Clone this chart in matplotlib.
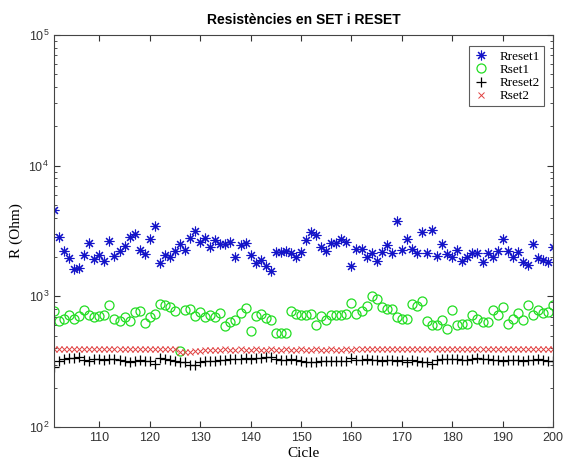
import numpy as np
import matplotlib
matplotlib.use("Agg")
import matplotlib.pyplot as plt

cycles = np.arange(101, 201)

rreset1 = [4600, 2850, 2230, 1975, 1630, 1660, 2080, 2565, 1940, 2080,
           1875, 2655, 2045, 2230, 2435, 2850, 3000, 2270, 2120, 2750,
           3450, 1810, 2080, 2010, 2230, 2520, 2270, 2800, 3160, 2610,
           2800, 2390, 2700, 2520, 2520, 2610, 2010, 2480, 2565, 2080,
           1810, 1905, 1720, 1575, 2190, 2190, 2230, 2155, 2010, 2190,
           2700, 3110, 2950, 2390, 2230, 2565, 2565, 2750, 2610, 1720,
           2310, 2310, 2010, 2155, 1875, 2190, 2480, 2155, 3765, 2270,
           2750, 2310, 2155, 3110, 2155, 3220, 2045, 2520, 2120, 2010,
           2270, 1875, 2010, 2155, 2155, 1840, 2155, 2010, 2230, 2750,
           2230, 2010, 2190, 1840, 1750, 2520, 1975, 1905, 1840, 2390]

rset1 = [770, 647, 670, 718, 670, 705, 783, 718, 693, 705,
         718, 855, 670, 647, 693, 647, 756, 770, 624, 693,
         730, 870, 855, 825, 770, 383, 783, 797, 705, 756,
         693, 718, 693, 743, 593, 635, 658, 743, 811, 543,
         705, 730, 681, 658, 524, 524, 524, 770, 730, 718,
         718, 730, 603, 705, 658, 718, 718, 718, 730, 885,
         730, 770, 840, 1000, 949, 825, 797, 797, 693, 670,
         670, 870, 840, 917, 647, 603, 603, 658, 562, 783,
         603, 614, 614, 718, 670, 635, 635, 783, 718, 825,
         614, 670, 743, 658, 855, 718, 783, 743, 756, 855]

rreset2 = [290, 322, 333, 339, 339, 345, 328, 322, 333, 333,
           328, 333, 333, 328, 322, 316, 322, 328, 322, 322,
           305, 339, 333, 328, 322, 316, 312, 300, 300, 316,
           322, 322, 322, 328, 328, 333, 333, 333, 339, 333,
           339, 339, 345, 345, 333, 328, 328, 333, 328, 322,
           316, 316, 316, 322, 322, 322, 322, 322, 322, 339,
           328, 328, 333, 328, 328, 322, 328, 328, 322, 328,
           316, 328, 322, 312, 316, 305, 328, 333, 333, 333,
           333, 328, 328, 333, 339, 333, 333, 328, 328, 322,
           328, 328, 328, 322, 328, 328, 333, 328, 322, 322]

rset2 = [397, 395, 397, 396, 397, 395, 397, 396, 397, 395,
         397, 396, 397, 395, 397, 396, 397, 395, 397, 396,
         397, 395, 397, 396, 395, 378, 376, 378, 380, 384,
         388, 390, 391, 390, 392, 391, 390, 392, 391, 390,
         392, 391, 390, 392, 391, 390, 392, 391, 390, 392,
         391, 390, 392, 391, 390, 392, 391, 390, 392, 391,
         393, 392, 393, 394, 393, 392, 393, 394, 393, 392,
         393, 394, 393, 392, 393, 394, 393, 392, 393, 394,
         393, 392, 393, 394, 393, 392, 393, 394, 393, 392,
         393, 394, 393, 392, 393, 394, 393, 392, 393, 394]

xticks = [110, 120, 130, 140, 150, 160, 170, 180, 190, 200]

plt.rcParams['font.family'] = ['Liberation Sans', 'DejaVu Sans']
fig = plt.figure(figsize=(5.64, 4.67), dpi=100)
ax = fig.add_axes([0.0957, 0.0857, 0.885, 0.8393])

# MATLAB-style asterisk: 8 spokes (+ and x together)
ast = (8, 2, 0)
ax.plot(cycles, rreset1, linestyle='none', marker=ast, color='#1414c8', ms=7, mew=0.8, label='Rreset1')
ax.plot(cycles, rset1, linestyle='none', marker='o', mfc='none', mec='#22dd22', ms=6.5, mew=0.9, label='Rset1')
ax.plot(cycles, rreset2, linestyle='none', marker='+', color='black', ms=7, mew=0.9, label='Rreset2')
ax.plot(cycles, rset2, linestyle='none', marker='x', color='#e04040', ms=4.5, mew=0.7, label='Rset2')

ax.set_yscale('log')
ax.set_ylim(1e2, 1e5)
ax.set_xlim(101, 200)
ax.set_xticks(xticks)
ax.tick_params(which='both', direction='in', top=True, right=True, labelsize=9, colors='#333333')
ax.tick_params(which='major', length=4)
ax.tick_params(which='minor', length=2)
for s in ax.spines.values():
    s.set_color('#444444')
    s.set_linewidth(0.8)

ax.set_title('Resistències en SET i RESET', fontsize=10, fontweight='bold', pad=8)
ax.set_xlabel('Cicle', family='Liberation Serif', fontsize=11, labelpad=2)
ax.set_ylabel('R (Ohm)', family='Liberation Serif', fontsize=11, labelpad=4)

leg = ax.legend(loc='upper right', bbox_to_anchor=(0.99, 0.981), prop={'family': 'Liberation Serif', 'size': 9.5},
                frameon=True, fancybox=False, edgecolor='#333333', handlelength=1.2,
                handletextpad=0.8, borderpad=0.3, labelspacing=0.08, borderaxespad=0.3)
leg.get_frame().set_linewidth(0.8)

fig.savefig('out.png', dpi=100)
